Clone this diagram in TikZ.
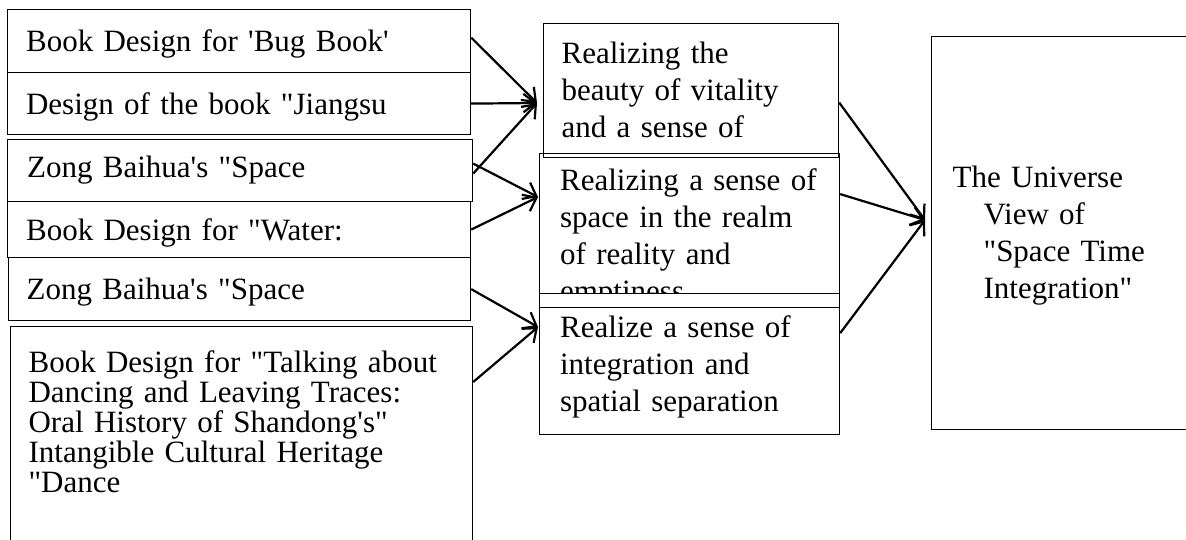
\documentclass[tikz,border=0pt]{standalone}
\usepackage{fontspec}
\newfontfamily\boxfont{Liberation Serif}
\usetikzlibrary{arrows.meta}
\tikzset{
	box/.style={
		draw,
		rectangle,
		anchor=north west,
		align=left,
		line width=1.2pt,
		inner xsep=20pt,
		inner ysep=0pt,
		text height=21pt,
		font=\boxfont\fontsize{31}{37}\selectfont,
	},
	work/.style={
		box,
		inner xsep=18pt,
		text width=426pt,
	},
	aspect/.style={
		box,
		inner xsep=18pt,
		text width=259pt,
	},
	view/.style={
		box,
		inner xsep=21pt,
		text width=228pt,
	},
	link/.style={
		line width=2.2pt,
		-{Straight Barb[angle=76:15pt 0]}
	},
}

\begin{document}
\begin{tikzpicture}[
		x=1pt, y=-1pt,
	]
		\clip (0,0) rectangle (1186,540);

		\node[work, minimum width=463pt, minimum height=63pt, text depth=-1pt]  (bug)     at (7,9)    {Book Design for 'Bug Book'};
		\node[work, minimum width=463pt, minimum height=62pt, text depth=0pt]   (jiangsu) at (7,72)   {Design of the book "Jiangsu};
		\node[work, minimum width=465pt, minimum height=62pt, text depth=8pt]   (zong)    at (7,139)  {Zong Baihua's "Space};
		\node[work, minimum width=463pt, minimum height=56pt, text depth=-1pt]  (water)   at (7,201)  {Book Design for "Water:};
		\node[work, minimum width=462pt, minimum height=63pt, text depth=1pt]   (zongb)   at (8,257)  {Zong Baihua's "Space};
		\node[work, minimum width=462pt, minimum height=240pt, text depth=169pt,
			font=\boxfont\fontsize{31}{30}\selectfont] (dance) at (10,326)
			{Book Design for "Talking about\\Dancing and Leaving Traces:\\Oral History of Shandong's"\\Intangible Cultural Heritage\\"Dance};

%*********

		\node[aspect, minimum width=295pt, minimum height=134pt, text depth=75pt]  (vitality) at (543,23)
			{Realizing the\\beauty of vitality\\and a sense of};
		\node[aspect, minimum width=300pt, minimum height=153pt, text depth=100pt] (realm)    at (539,153)
			{Realizing a sense of\\space in the realm\\of reality and\\emptiness};
		\node[aspect, minimum width=300pt, minimum height=141pt, text depth=74pt, fill=white] (integ) at (539,293)
			{Realize a sense of\\integration and\\spatial separation};
		\draw[line width=1.2pt] (realm.south west) -- (realm.south east);

		\node[view, minimum width=270pt, minimum height=393pt, text depth=112pt] (universe) at (931,36)
			{The Universe\\\hspace*{31pt}View of\\\hspace*{31pt}"Space Time\\\hspace*{31pt}Integration"};

%*********

		\coordinate (in1) at (537,103);
		\coordinate (in2) at (538,197);
		\coordinate (in3) at (538,327);
		\coordinate (in4) at (925,220);

		\draw[link] ([yshift=3.5pt]bug.east) -- (in1);
		\draw[link] (jiangsu.east) -- (in1);
		\draw[link] ([yshift=-3pt]zong.east) -- (in1);
		\draw[link] ([yshift=7pt]zong.east) -- (in2);
		\draw[link] (water.east) -- (in2);
		\draw[link] (zongb.east) -- (in3);
		\draw[link] ([yshift=-56pt]dance.north east) -- (in3);

		\draw[link] ([yshift=-12pt]vitality.east) -- (in4);
		\draw[link] ([yshift=36pt]realm.east) -- (in4);
		\draw[link] ([yshift=31pt]integ.east) -- (in4);

	\end{tikzpicture}
\end{document}
